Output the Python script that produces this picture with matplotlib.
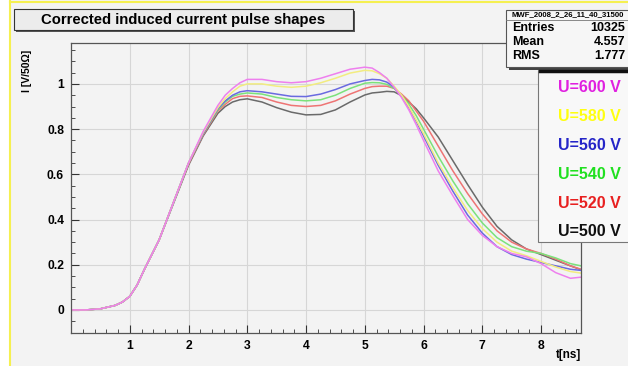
import numpy as np
import matplotlib
matplotlib.use("Agg")
import matplotlib.pyplot as plt
from matplotlib.patches import Rectangle
from matplotlib.ticker import MultipleLocator

plt.rcParams["font.family"] = ["Liberation Sans", "DejaVu Sans"]
plt.rcParams["font.weight"] = "bold"

W, H = 628, 366

# time axis [ns]
t = [0.0, 0.25, 0.5, 0.75, 0.875, 1.0, 1.125, 1.25, 1.5, 1.75,
     2.0, 2.25, 2.5, 2.625, 2.75, 2.875, 3.0, 3.25, 3.5, 3.75,
     4.0, 4.25, 4.5, 4.75, 5.0, 5.125, 5.25, 5.375, 5.5, 5.625,
     5.75, 5.875, 6.0, 6.25, 6.5, 6.75, 7.0, 7.25, 7.5, 7.75,
     8.0, 8.25, 8.5, 8.68]

# pulse amplitude [V/50 Ohm] for each bias voltage
i_600 = [0, 0, .005, .02, .035, .06, .11, .18, .31, .48,
         .65, .79, .905, .95, .98, 1.005, 1.02, 1.02, 1.01, 1.005,
         1.01, 1.025, 1.045, 1.065, 1.074, 1.07, 1.05, 1.025, .985, .94,
         .885, .82, .75, .615, .505, .40, .33, .28, .25, .235,
         .205, .165, .14, .145]
i_580 = [0, 0, .005, .02, .035, .06, .11, .18, .31, .48,
         .65, .785, .895, .935, .965, .99, 1.0, 1.0, .99, .985,
         .99, 1.005, 1.025, 1.048, 1.06, 1.058, 1.045, 1.025, .99, .95,
         .90, .84, .78, .65, .54, .44, .36, .30, .26, .24,
         .215, .19, .17, .163]
i_560 = [0, 0, .005, .02, .035, .06, .11, .18, .31, .48,
         .65, .78, .89, .925, .95, .965, .97, .965, .955, .945,
         .944, .955, .975, 1.0, 1.015, 1.02, 1.018, 1.008, .985, .945,
         .895, .835, .77, .64, .525, .42, .34, .28, .245, .225,
         .21, .195, .18, .175]
i_540 = [0, 0, .005, .02, .035, .06, .11, .18, .31, .48,
         .65, .78, .885, .92, .945, .955, .96, .955, .94, .93,
         .925, .93, .95, .98, 1.003, 1.006, 1.005, .998, .98, .95,
         .91, .86, .80, .68, .57, .47, .385, .32, .28, .26,
         .25, .23, .205, .195]
i_520 = [0, 0, .005, .02, .035, .06, .11, .18, .31, .48,
         .645, .775, .88, .91, .935, .945, .947, .94, .92, .905,
         .90, .905, .925, .955, .98, .988, .99, .99, .98, .955,
         .925, .88, .835, .725, .615, .515, .425, .35, .30, .27,
         .25, .225, .195, .18]
i_500 = [0, 0, .005, .02, .035, .06, .11, .18, .31, .475,
         .64, .77, .87, .90, .92, .93, .934, .92, .895, .875,
         .863, .865, .885, .92, .951, .96, .963, .967, .965, .948,
         .92, .89, .85, .765, .66, .555, .455, .37, .31, .27,
         .245, .22, .195, .178]

labels = ["U=600 V", "U=580 V", "U=560 V", "U=540 V", "U=520 V", "U=500 V"]
series = [i_600, i_580, i_560, i_540, i_520, i_500]
line_colors = ["#ee7fee", "#f2ec80", "#6a6ae0", "#7be27b", "#ee7474", "#6a6a6a"]
text_colors = ["#e020e0", "#ffff10", "#2525c8", "#20e020", "#e82020", "#101010"]

stats = [("Entries", "10325"), ("Mean", "4.557"), ("RMS", "1.777")]


def fx(x):
    return x / W


def fy(y):
    return 1 - y / H


fig = plt.figure(figsize=(W / 100, H / 100), dpi=100)
fig.patch.set_facecolor("#f3f3f3")

# canvas edge
fig.patches.append(Rectangle((0, 0), fx(9), 1, transform=fig.transFigure,
                             facecolor="white", edgecolor="none", zorder=0))
fig.add_artist(plt.Line2D([fx(10), fx(10)], [0, 1], transform=fig.transFigure,
                          color="#f5f050", lw=1.5))
fig.add_artist(plt.Line2D([fx(10), 1], [fy(1.5), fy(1.5)], transform=fig.transFigure,
                          color="#f5f050", lw=1.5))

ax = fig.add_axes([fx(71), fy(333), fx(581 - 71), (333 - 43) / H])
ax.set_facecolor("#f3f3f3")

for vals, c in reversed(list(zip(series, line_colors))):
    ax.plot(t, vals, color=c, lw=1.1)

ax.set_xlim(0, 8.68)
ax.set_ylim(-0.102, 1.181)
ax.xaxis.set_major_locator(MultipleLocator(1))
ax.xaxis.set_minor_locator(MultipleLocator(0.2))
ax.yaxis.set_major_locator(MultipleLocator(0.2))
ax.yaxis.set_minor_locator(MultipleLocator(0.05))
ax.set_xticks([1, 2, 3, 4, 5, 6, 7, 8])
ax.set_yticks([0, 0.2, 0.4, 0.6, 0.8, 1.0])
ax.set_yticklabels(["0", "0.2", "0.4", "0.6", "0.8", "1"])
ax.tick_params(which="both", direction="in", labelsize=8.7, color="#333333")
ax.tick_params(which="major", length=6, pad=5)
ax.tick_params(which="minor", length=3)
ax.grid(True, which="major", color="#d6d6d6", lw=0.8)
ax.set_axisbelow(True)
for s in ax.spines.values():
    s.set_color("#555555")
    s.set_linewidth(0.9)

fig.text(fx(581), fy(358), "t[ns]", ha="right", va="baseline", fontsize=8.5)
fig.text(fx(27), fy(50), "I [V/50\u03a9]", rotation=90, ha="center", va="top", fontsize=7.5)

# title box
fig.patches.append(Rectangle((fx(16), fy(32)), fx(339), (32 - 11) / H,
                             transform=fig.transFigure, facecolor="#555555",
                             edgecolor="none", zorder=5))
fig.patches.append(Rectangle((fx(14), fy(30)), fx(339), (30 - 9) / H,
                             transform=fig.transFigure, facecolor="#ececec",
                             edgecolor="#333333", lw=0.8, zorder=6))
fig.text(fx(183), fy(20), "Corrected induced current pulse shapes",
         ha="center", va="center", fontsize=10.7, zorder=7)

# statistics box
fig.patches.append(Rectangle((fx(509), fy(69.5)), fx(125), (69.5 - 12) / H,
                             transform=fig.transFigure, facecolor="#444444",
                             edgecolor="none", zorder=5))
fig.patches.append(Rectangle((fx(506), fy(67)), fx(124), (67 - 10) / H,
                             transform=fig.transFigure, facecolor="#f6f6f6",
                             edgecolor="#555555", lw=0.8, zorder=6))
fig.add_artist(plt.Line2D([fx(506), 1], [fy(20), fy(20)], transform=fig.transFigure,
                          color="#777777", lw=0.6, zorder=7))
fig.text(fx(568), fy(15), "MWF_2008_2_26_11_40_31500", ha="center", va="center",
         fontsize=5.6, zorder=7)
for k, (name, val) in enumerate(stats):
    y = 28 + 14 * k
    fig.text(fx(512), fy(y), name, ha="left", va="center", fontsize=9, zorder=7)
    fig.text(fx(625), fy(y), val, ha="right", va="center", fontsize=9, zorder=7)

# legend box
fig.patches.append(Rectangle((fx(538), fy(242)), fx(92), (242 - 70) / H,
                             transform=fig.transFigure, facecolor="#f8f8f8",
                             edgecolor="#777777", lw=0.8, zorder=5))
fig.add_artist(plt.Line2D([fx(540), 1], [fy(70.5), fy(70.5)], transform=fig.transFigure,
                          color="#111111", lw=2.5, zorder=6))
for k, (lab, c) in enumerate(zip(labels, text_colors)):
    y = 88 + 28.8 * k
    fig.text(fx(621), fy(y), lab, ha="right", va="center", fontsize=11.5,
             color=c, zorder=7)

fig.savefig("out.png", dpi=100, facecolor=fig.get_facecolor())
